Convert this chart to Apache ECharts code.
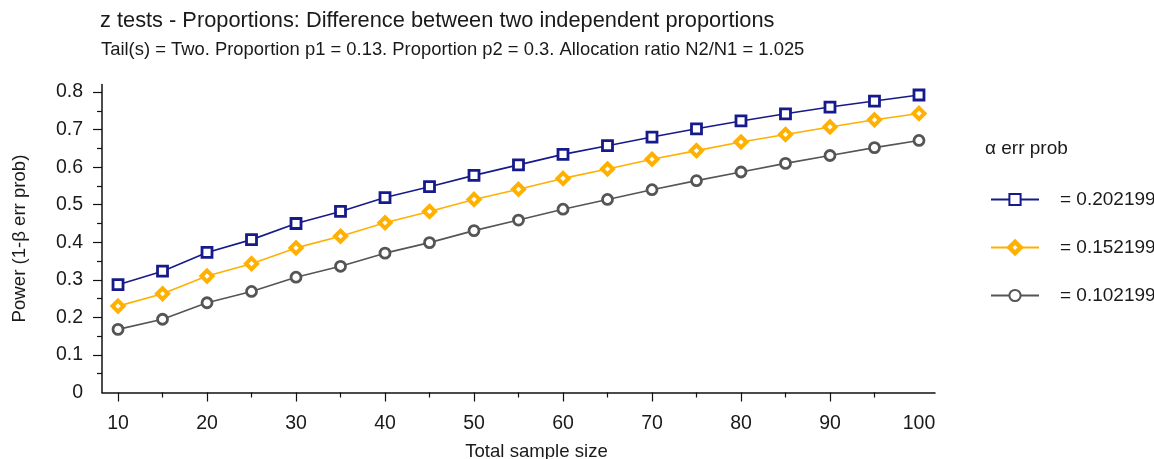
<!DOCTYPE html>
<html>
<head>
<meta charset="utf-8">
<title>Power vs total sample size</title>
<script src="https://cdn.jsdelivr.net/npm/echarts@6/dist/echarts.min.js"></script>
<style>
  html, body { margin: 0; padding: 0; background: #fff; }
  #chart { width: 1154px; height: 459px; }
</style>
</head>
<body>
<div id="chart"></div>
<script>
// Total sample size (x) for every computed point
const sampleSizes = [10, 15, 20, 25, 30, 35, 40, 45, 50, 55, 60, 65, 70, 75, 80, 85, 90, 95, 100];

// Power (1-β err prob) for each α err prob
const powerA = [0.287, 0.323, 0.373, 0.407, 0.450, 0.482, 0.519, 0.548, 0.578, 0.606, 0.634, 0.657, 0.680, 0.702, 0.723, 0.742, 0.760, 0.776, 0.792];
const powerB = [0.230, 0.263, 0.310, 0.343, 0.385, 0.416, 0.452, 0.482, 0.514, 0.541, 0.570, 0.595, 0.621, 0.644, 0.667, 0.687, 0.707, 0.726, 0.743];
const powerC = [0.168, 0.195, 0.239, 0.269, 0.307, 0.336, 0.371, 0.399, 0.431, 0.459, 0.488, 0.514, 0.540, 0.564, 0.587, 0.610, 0.631, 0.652, 0.671];

const seriesNames = ['= 0.202199', '= 0.152199', '= 0.102199'];

// Axis tick / label positions
const xLabelValues = [10, 20, 30, 40, 50, 60, 70, 80, 90, 100];
const xMajorTicks = [10, 20, 30, 40, 50, 60, 70, 80, 90];
const xMinorTicks = [15, 25, 35, 45, 55, 65, 75, 85, 95];
const yLabelValues = [0, 0.1, 0.2, 0.3, 0.4, 0.5, 0.6, 0.7, 0.8];
const yMajorTicks = [0.1, 0.2, 0.3, 0.4, 0.5, 0.6, 0.7, 0.8];
const yMinorTicks = [0.05, 0.15, 0.25, 0.35, 0.45, 0.55, 0.65, 0.75];

const FONT = '"Liberation Sans", Arial, sans-serif';
const AXIS_COLOR = '#111';
const TEXT_COLOR = '#1a1a1a';

const COLORS = ['#161a8a', '#ffb000', '#555555'];

function pairs(ys) {
  return sampleSizes.map((x, i) => [x, ys[i]]);
}

function lineSeries(name, ys, color, symbol, size, borderWidth, fill) {
  return {
    name: name,
    type: 'line',
    data: pairs(ys),
    symbol: symbol,
    symbolSize: size,
    showAllSymbol: true,
    lineStyle: { color: color, width: 1.6 },
    itemStyle: { color: fill, borderColor: color, borderWidth: borderWidth },
    emphasis: { disabled: true },
    animation: false,
    z: 3
  };
}

const chart = echarts.init(document.getElementById('chart'), null, { renderer: 'canvas' });

const xRange = { min: 8.2, max: 101.8 };
const yRange = { min: 0, max: 0.82 };

chart.setOption({
  backgroundColor: '#fff',
  animation: false,
  title: [
    {
      text: 'z tests - Proportions: Difference between two independent proportions',
      left: 100, top: 10, padding: 0,
      textStyle: { fontFamily: FONT, fontSize: 21.8, fontWeight: 'normal', color: TEXT_COLOR }
    },
    {
      text: 'Tail(s) = Two. Proportion p1 = 0.13. Proportion p2 = 0.3. Allocation ratio N2/N1 = 1.025',
      left: 101, top: 41, padding: 0,
      textStyle: { fontFamily: FONT, fontSize: 18.4, fontWeight: 'normal', color: TEXT_COLOR }
    },
    {
      text: 'α err prob',
      left: 985, top: 139, padding: 0,
      textStyle: { fontFamily: FONT, fontSize: 19, fontWeight: 'normal', color: TEXT_COLOR }
    }
  ],
  legend: {
    orient: 'vertical',
    left: 990, top: 190, padding: 0,
    itemWidth: 48, itemHeight: 14, itemGap: 29,
    data: [
      { name: seriesNames[0] },
      { name: seriesNames[1], itemStyle: { borderWidth: 4.5 } },
      { name: seriesNames[2] }
    ],
    textStyle: { fontFamily: FONT, fontSize: 19, lineHeight: 14, color: TEXT_COLOR, padding: [0, 0, 0, 16] },
    selectedMode: false
  },
  grid: { left: 102, top: 84.5, width: 833, height: 308, outerBoundsMode: 'none', containLabel: false },
  xAxis: [
    {
      type: 'value', ...xRange,
      name: 'Total sample size', nameLocation: 'middle', nameGap: 50,
      nameTextStyle: { fontFamily: FONT, fontSize: 18.6, color: TEXT_COLOR, padding: [0, 0, 0, 36] },
      axisLine: { show: true, lineStyle: { color: AXIS_COLOR, width: 1.5 } },
      axisTick: { show: true, length: 9, customValues: xMajorTicks, lineStyle: { color: AXIS_COLOR, width: 1.2 } },
      axisLabel: { customValues: xLabelValues, margin: 21, fontFamily: FONT, fontSize: 19.5, color: TEXT_COLOR },
      splitLine: { show: false }
    },
    {
      type: 'value', ...xRange, position: 'bottom',
      axisLine: { show: false },
      axisTick: { show: true, length: 5, customValues: xMinorTicks, lineStyle: { color: AXIS_COLOR, width: 1.2 } },
      axisLabel: { show: false },
      splitLine: { show: false }
    }
  ],
  yAxis: [
    {
      type: 'value', ...yRange,
      name: 'Power (1-β err prob)', nameLocation: 'middle', nameGap: 73,
      nameTextStyle: { fontFamily: FONT, fontSize: 18.6, color: TEXT_COLOR },
      axisLine: { show: true, lineStyle: { color: AXIS_COLOR, width: 1.5 } },
      axisTick: { show: true, length: 9, customValues: yMajorTicks, lineStyle: { color: AXIS_COLOR, width: 1.2 } },
      axisLabel: { customValues: yLabelValues, margin: 19, fontFamily: FONT, fontSize: 19.5, color: TEXT_COLOR },
      splitLine: { show: false }
    },
    {
      type: 'value', ...yRange, position: 'left',
      axisLine: { show: false },
      axisTick: { show: true, length: 5, customValues: yMinorTicks, lineStyle: { color: AXIS_COLOR, width: 1.2 } },
      axisLabel: { show: false },
      splitLine: { show: false }
    }
  ],
  series: [
    lineSeries(seriesNames[0], powerA, COLORS[0], 'rect', 10, 2.8, '#fff'),
    lineSeries(seriesNames[1], powerB, COLORS[1], 'diamond', 11, 4, '#fff'),
    lineSeries(seriesNames[2], powerC, COLORS[2], 'circle', 10, 2.8, '#fff')
  ]
});
</script>
</body>
</html>
